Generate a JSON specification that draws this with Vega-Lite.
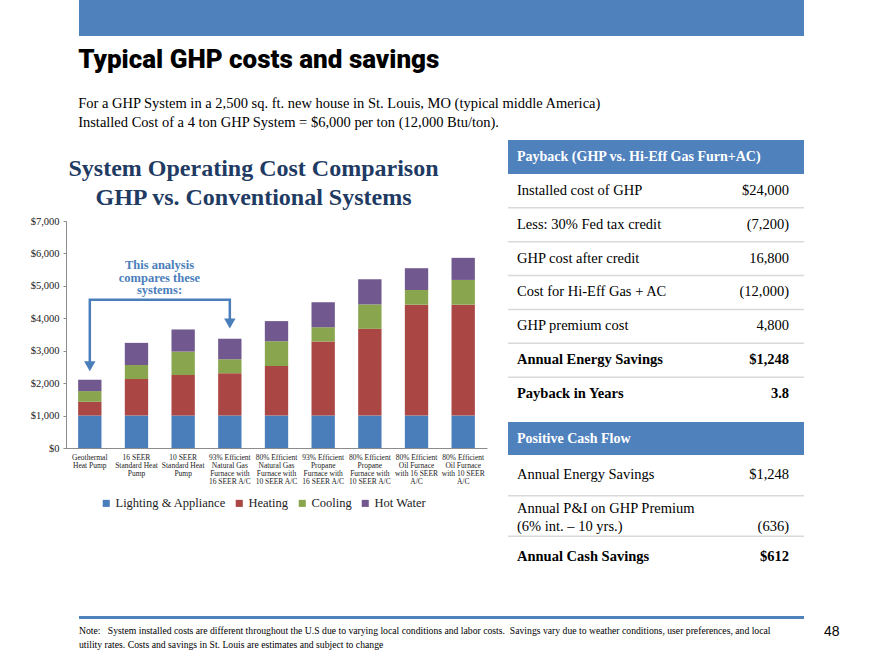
{
  "$schema": "https://vega.github.io/schema/vega-lite/v6.json",
  "background": "white",
  "padding": {"left": 30, "top": 0, "right": 0, "bottom": 0},
  "config": {
    "view": {"stroke": null},
    "font": "Liberation Serif",
    "text": {"font": "Liberation Serif"},
    "axisY": {"labelOverlap": false, "labelBound": false, "labelFlush": false}
  },
  "datasets": {
    "costs": [
      {"system": "Geothermal|Heat Pump", "category": "Lighting & Appliance", "ord": 1, "usd": 1000},
      {"system": "Geothermal|Heat Pump", "category": "Heating", "ord": 2, "usd": 425},
      {"system": "Geothermal|Heat Pump", "category": "Cooling", "ord": 3, "usd": 330},
      {"system": "Geothermal|Heat Pump", "category": "Hot Water", "ord": 4, "usd": 350},
      {"system": "16 SEER|Standard Heat|Pump", "category": "Lighting & Appliance", "ord": 1, "usd": 1000},
      {"system": "16 SEER|Standard Heat|Pump", "category": "Heating", "ord": 2, "usd": 1127},
      {"system": "16 SEER|Standard Heat|Pump", "category": "Cooling", "ord": 3, "usd": 433},
      {"system": "16 SEER|Standard Heat|Pump", "category": "Hot Water", "ord": 4, "usd": 682},
      {"system": "10 SEER|Standard Heat|Pump", "category": "Lighting & Appliance", "ord": 1, "usd": 1000},
      {"system": "10 SEER|Standard Heat|Pump", "category": "Heating", "ord": 2, "usd": 1251},
      {"system": "10 SEER|Standard Heat|Pump", "category": "Cooling", "ord": 3, "usd": 722},
      {"system": "10 SEER|Standard Heat|Pump", "category": "Hot Water", "ord": 4, "usd": 682},
      {"system": "93% Efficient|Natural Gas|Furnace with|16 SEER A/C", "category": "Lighting & Appliance", "ord": 1, "usd": 1000},
      {"system": "93% Efficient|Natural Gas|Furnace with|16 SEER A/C", "category": "Heating", "ord": 2, "usd": 1302},
      {"system": "93% Efficient|Natural Gas|Furnace with|16 SEER A/C", "category": "Cooling", "ord": 3, "usd": 434},
      {"system": "93% Efficient|Natural Gas|Furnace with|16 SEER A/C", "category": "Hot Water", "ord": 4, "usd": 630},
      {"system": "80% Efficient|Natural Gas|Furnace with|10 SEER A/C", "category": "Lighting & Appliance", "ord": 1, "usd": 1000},
      {"system": "80% Efficient|Natural Gas|Furnace with|10 SEER A/C", "category": "Heating", "ord": 2, "usd": 1529},
      {"system": "80% Efficient|Natural Gas|Furnace with|10 SEER A/C", "category": "Cooling", "ord": 3, "usd": 764},
      {"system": "80% Efficient|Natural Gas|Furnace with|10 SEER A/C", "category": "Hot Water", "ord": 4, "usd": 620},
      {"system": "93% Efficient|Propane|Furnace with|16 SEER A/C", "category": "Lighting & Appliance", "ord": 1, "usd": 1000},
      {"system": "93% Efficient|Propane|Furnace with|16 SEER A/C", "category": "Heating", "ord": 2, "usd": 2283},
      {"system": "93% Efficient|Propane|Furnace with|16 SEER A/C", "category": "Cooling", "ord": 3, "usd": 444},
      {"system": "93% Efficient|Propane|Furnace with|16 SEER A/C", "category": "Hot Water", "ord": 4, "usd": 764},
      {"system": "80% Efficient|Propane|Furnace with|10 SEER A/C", "category": "Lighting & Appliance", "ord": 1, "usd": 1000},
      {"system": "80% Efficient|Propane|Furnace with|10 SEER A/C", "category": "Heating", "ord": 2, "usd": 2675},
      {"system": "80% Efficient|Propane|Furnace with|10 SEER A/C", "category": "Cooling", "ord": 3, "usd": 754},
      {"system": "80% Efficient|Propane|Furnace with|10 SEER A/C", "category": "Hot Water", "ord": 4, "usd": 774},
      {"system": "80% Efficient|Oil Furnace|with 16 SEER|A/C", "category": "Lighting & Appliance", "ord": 1, "usd": 1000},
      {"system": "80% Efficient|Oil Furnace|with 16 SEER|A/C", "category": "Heating", "ord": 2, "usd": 3419},
      {"system": "80% Efficient|Oil Furnace|with 16 SEER|A/C", "category": "Cooling", "ord": 3, "usd": 454},
      {"system": "80% Efficient|Oil Furnace|with 16 SEER|A/C", "category": "Hot Water", "ord": 4, "usd": 671},
      {"system": "80% Efficient|Oil Furnace|with 10 SEER|A/C", "category": "Lighting & Appliance", "ord": 1, "usd": 1000},
      {"system": "80% Efficient|Oil Furnace|with 10 SEER|A/C", "category": "Heating", "ord": 2, "usd": 3419},
      {"system": "80% Efficient|Oil Furnace|with 10 SEER|A/C", "category": "Cooling", "ord": 3, "usd": 764},
      {"system": "80% Efficient|Oil Furnace|with 10 SEER|A/C", "category": "Hot Water", "ord": 4, "usd": 681}
    ],
    "arrow": [
      {"system": "Geothermal|Heat Pump", "usd": 2540, "step": 1},
      {"system": "Geothermal|Heat Pump", "usd": 4570, "step": 2},
      {"system": "93% Efficient|Natural Gas|Furnace with|16 SEER A/C", "usd": 4570, "step": 3},
      {"system": "93% Efficient|Natural Gas|Furnace with|16 SEER A/C", "usd": 3850, "step": 4}
    ],
    "heads": [
      {"system": "Geothermal|Heat Pump", "usd": 2520},
      {"system": "93% Efficient|Natural Gas|Furnace with|16 SEER A/C", "usd": 3840}
    ],
    "callout": [
      {"system": "16 SEER|Standard Heat|Pump", "usd": 5270, "text": "This analysis\ncompares these\nsystems:"}
    ],
    "payback": [
      {"row": "h", "type": "header", "label": "Payback (GHP vs.  Hi-Eff Gas Furn+AC)", "value": ""},
      {"row": "r1", "type": "item", "label": "Installed cost of GHP", "value": "$24,000"},
      {"row": "r2", "type": "item", "label": "Less: 30% Fed tax credit", "value": "(7,200)"},
      {"row": "r3", "type": "item", "label": "GHP cost after credit", "value": "16,800"},
      {"row": "r4", "type": "item", "label": "Cost for Hi-Eff Gas + AC", "value": "(12,000)"},
      {"row": "r5", "type": "item", "label": "GHP premium cost", "value": "4,800"},
      {"row": "r6", "type": "result", "label": "Annual Energy Savings", "value": "$1,248"},
      {"row": "r7", "type": "result", "label": "Payback in Years", "value": "3.8"}
    ],
    "cash": [
      {"row": "s1", "type": "item", "label": "Annual Energy Savings", "value": "$1,248"},
      {"row": "s2", "type": "item", "label": "Annual P&I on GHP Premium\n(6% int. – 10 yrs.)", "value": "\n(636)"},
      {"row": "s3", "type": "result", "label": "Annual Cash Savings", "value": "$612"}
    ],
    "cashHeader": [
      {"label": "Positive Cash Flow"}
    ]
  },
  "spacing": 34,
  "vconcat": [
    {
      "spacing": 10,
      "vconcat": [
        {
          "spacing": 12,
          "hconcat": [
            {"width": 1, "height": 36, "data": {"values": [{}]}, "mark": {"type": "text"}, "encoding": {"text": {"value": ""}}},
            {"width": 725, "height": 36, "view": {"fill": "#4f81bd", "stroke": null}, "data": {"values": [{}]}, "mark": {"type": "text"}, "encoding": {"text": {"value": ""}}}
          ]
        },
        {
          "title": {
            "text": "Typical GHP costs and savings",
            "subtitle": ["For a GHP System in a 2,500 sq. ft. new house in St. Louis, MO (typical middle America)", "Installed Cost of a 4 ton GHP System = $6,000 per ton (12,000 Btu/ton)."],
            "anchor": "start",
            "dx": 48,
            "font": "Roboto, Liberation Sans, sans-serif",
            "fontSize": 26,
            "fontWeight": 900,
            "color": "black",
            "subtitleFont": "Liberation Serif",
            "subtitleFontSize": 14.5,
            "subtitleColor": "black",
            "subtitleLineHeight": 19,
            "subtitlePadding": 24,
            "offset": 11
          },
          "spacing": 20,
          "hconcat": [
            {
              "spacing": 6,
              "vconcat": [
                {
                  "width": 421, "height": 15,
                  "data": {"values": [{}]},
                  "mark": {"type": "text"},
                  "encoding": {"text": {"value": ""}},
                  "title": {
                    "text": ["System Operating Cost Comparison", "GHP vs. Conventional Systems"],
                    "orient": "bottom", "anchor": "middle", "dx": -23, "offset": 2,
                    "font": "Liberation Serif", "fontSize": 24, "fontWeight": "bold",
                    "lineHeight": 29, "color": "#1f3b63"
                  }
                },
                {
                  "width": 421, "height": 227,
                  "layer": [
                    {
                      "data": {"name": "costs"},
                      "mark": {"type": "bar"},
                      "encoding": {
                        "x": {
                          "field": "system", "type": "nominal", "sort": null,
                          "scale": {"paddingInner": 0.5, "paddingOuter": 0.26},
                          "axis": {
                            "title": null, "labelAngle": 0,
                            "labelExpr": "split(datum.label, '|')",
                            "labelFont": "Liberation Serif", "labelFontSize": 7.5,
                            "labelLineHeight": 8.3, "labelColor": "#222",
                            "ticks": false, "labelPadding": 5, "domainColor": "#8c8c8c"
                          }
                        },
                        "y": {
                          "field": "usd", "type": "quantitative", "stack": "zero",
                          "scale": {"domain": [0, 7000], "nice": false},
                          "axis": {
                            "title": null, "tickCount": 7,
                            "format": "$,.0f", "grid": false, "labelOverlap": false,
                            "labelFont": "Liberation Serif", "labelFontSize": 10.5, "labelColor": "#222",
                            "tickSize": 3, "tickColor": "#8c8c8c", "domainColor": "#8c8c8c", "labelPadding": 4
                          }
                        },
                        "color": {
                          "field": "category", "type": "nominal",
                          "scale": {
                            "domain": ["Lighting & Appliance", "Heating", "Cooling", "Hot Water"],
                            "range": ["#4a7ebb", "#aa4643", "#89a54e", "#71588f"]
                          },
                          "legend": {
                            "title": null, "orient": "none", "legendX": 34, "legendY": 497,
                            "direction": "horizontal", "symbolType": "square", "symbolSize": 50,
                            "symbolStrokeWidth": 0, "labelFont": "Liberation Serif", "labelFontSize": 12.5,
                            "labelColor": "#222", "labelOffset": 3, "columnPadding": 7
                          }
                        },
                        "order": {"field": "ord"}
                      }
                    },
                    {
                      "data": {"name": "arrow"},
                      "mark": {"type": "line", "color": "#4a7ebb", "strokeWidth": 2.5},
                      "encoding": {
                        "x": {"field": "system", "type": "nominal", "sort": null},
                        "y": {"field": "usd", "type": "quantitative"},
                        "order": {"field": "step"}
                      }
                    },
                    {
                      "data": {"name": "heads"},
                      "mark": {"type": "point", "shape": "triangle-down", "filled": true, "size": 130, "color": "#4a7ebb", "opacity": 1},
                      "encoding": {
                        "x": {"field": "system", "type": "nominal", "sort": null},
                        "y": {"field": "usd", "type": "quantitative"}
                      }
                    },
                    {
                      "data": {"name": "callout"},
                      "mark": {"type": "text", "lineBreak": "\n", "lineHeight": 12.5, "fontSize": 12.5, "fontWeight": "bold", "color": "#4a7ebb", "dx": 23, "dy": -12, "align": "center", "baseline": "middle"},
                      "encoding": {
                        "x": {"field": "system", "type": "nominal", "sort": null},
                        "y": {"field": "usd", "type": "quantitative"},
                        "text": {"field": "text"}
                      }
                    }
                  ]
                }
              ]
            },
            {
              "spacing": 11,
              "vconcat": [
                {
                  "width": 296, "height": 271,
                  "data": {"name": "payback"},
                  "encoding": {
                    "y": {"field": "row", "type": "nominal", "scale": {"type": "band", "domain": ["h", "r1", "r2", "r3", "r4", "r5", "r6", "r7"], "paddingInner": 0, "paddingOuter": 0}, "axis": null}
                  },
                  "layer": [
                    {
                      "transform": [{"filter": "datum.type == 'header'"}],
                      "mark": {"type": "bar", "color": "#4f81bd"},
                      "encoding": {"x": {"datum": 0, "type": "quantitative", "scale": {"domain": [0, 1]}, "axis": null}, "x2": {"datum": 1}}
                    },
                    {
                      "transform": [{"filter": "datum.type != 'header' && datum.row != 'r7'"}],
                      "mark": {"type": "rule", "color": "#d9d9d9", "strokeWidth": 1.5},
                      "encoding": {"y": {"field": "row", "type": "nominal", "bandPosition": 1}, "x": {"datum": 0, "type": "quantitative"}, "x2": {"datum": 1}}
                    },
                    {
                      "transform": [{"filter": "datum.type == 'header'"}],
                      "mark": {"type": "text", "align": "left", "baseline": "middle", "dx": 9, "fontSize": 14, "fontWeight": "bold", "color": "white"},
                      "encoding": {"x": {"datum": 0, "type": "quantitative"}, "text": {"field": "label"}}
                    },
                    {
                      "transform": [{"filter": "datum.type == 'item'"}],
                      "mark": {"type": "text", "align": "left", "baseline": "middle", "dx": 9, "fontSize": 14.5, "color": "black"},
                      "encoding": {"x": {"datum": 0, "type": "quantitative"}, "text": {"field": "label"}}
                    },
                    {
                      "transform": [{"filter": "datum.type == 'result'"}],
                      "mark": {"type": "text", "align": "left", "baseline": "middle", "dx": 9, "fontSize": 14.5, "fontWeight": "bold", "color": "black"},
                      "encoding": {"x": {"datum": 0, "type": "quantitative"}, "text": {"field": "label"}}
                    },
                    {
                      "transform": [{"filter": "datum.type == 'item'"}],
                      "mark": {"type": "text", "align": "right", "baseline": "middle", "dx": -15, "fontSize": 14.5, "color": "black"},
                      "encoding": {"x": {"datum": 1, "type": "quantitative"}, "text": {"field": "value"}}
                    },
                    {
                      "transform": [{"filter": "datum.type == 'result'"}],
                      "mark": {"type": "text", "align": "right", "baseline": "middle", "dx": -15, "fontSize": 14.5, "fontWeight": "bold", "color": "black"},
                      "encoding": {"x": {"datum": 1, "type": "quantitative"}, "text": {"field": "value"}}
                    }
                  ]
                },
                {
                  "spacing": 0,
                  "vconcat": [
                    {
                      "width": 296, "height": 33,
                      "data": {"name": "cashHeader"},
                      "encoding": {
                        "y": {"field": "label", "type": "nominal", "scale": {"type": "band", "paddingInner": 0, "paddingOuter": 0}, "axis": null}
                      },
                      "layer": [
                        {
                          "mark": {"type": "bar", "color": "#4f81bd"},
                          "encoding": {"x": {"datum": 0, "type": "quantitative", "scale": {"domain": [0, 1]}, "axis": null}, "x2": {"datum": 1}}
                        },
                        {
                          "mark": {"type": "text", "align": "left", "baseline": "middle", "dx": 9, "fontSize": 14, "fontWeight": "bold", "color": "white"},
                          "encoding": {"x": {"datum": 0, "type": "quantitative"}, "text": {"field": "label"}}
                        }
                      ]
                    },
                    {
                      "width": 296, "height": 122,
                      "data": {"name": "cash"},
                      "encoding": {
                        "y": {"field": "row", "type": "nominal", "scale": {"type": "band", "domain": ["s1", "s2", "s3"], "paddingInner": 0, "paddingOuter": 0}, "axis": null}
                      },
                      "layer": [
                        {
                          "transform": [{"filter": "datum.type == 'item'"}],
                          "mark": {"type": "rule", "color": "#d9d9d9", "strokeWidth": 1.5},
                          "encoding": {"y": {"field": "row", "type": "nominal", "bandPosition": 1}, "x": {"datum": 0, "type": "quantitative", "scale": {"domain": [0, 1]}, "axis": null}, "x2": {"datum": 1}}
                        },
                        {
                          "transform": [{"filter": "datum.row == 's1'"}],
                          "mark": {"type": "text", "align": "left", "baseline": "middle", "dx": 9, "fontSize": 14.5, "color": "black"},
                          "encoding": {"x": {"datum": 0, "type": "quantitative"}, "text": {"field": "label"}}
                        },
                        {
                          "transform": [{"filter": "datum.row == 's2'"}],
                          "mark": {"type": "text", "align": "left", "baseline": "middle", "dx": 9, "dy": -7, "fontSize": 14.5, "color": "black", "lineBreak": "\n", "lineHeight": 18},
                          "encoding": {"x": {"datum": 0, "type": "quantitative"}, "text": {"field": "label"}}
                        },
                        {
                          "transform": [{"filter": "datum.type == 'result'"}],
                          "mark": {"type": "text", "align": "left", "baseline": "middle", "dx": 9, "fontSize": 14.5, "fontWeight": "bold", "color": "black"},
                          "encoding": {"x": {"datum": 0, "type": "quantitative"}, "text": {"field": "label"}}
                        },
                        {
                          "transform": [{"filter": "datum.row == 's1'"}],
                          "mark": {"type": "text", "align": "right", "baseline": "middle", "dx": -15, "fontSize": 14.5, "color": "black"},
                          "encoding": {"x": {"datum": 1, "type": "quantitative"}, "text": {"field": "value"}}
                        },
                        {
                          "transform": [{"filter": "datum.row == 's2'"}],
                          "mark": {"type": "text", "align": "right", "baseline": "middle", "dx": -15, "dy": -7, "fontSize": 14.5, "color": "black", "lineBreak": "\n", "lineHeight": 18},
                          "encoding": {"x": {"datum": 1, "type": "quantitative"}, "text": {"field": "value"}}
                        },
                        {
                          "transform": [{"filter": "datum.type == 'result'"}],
                          "mark": {"type": "text", "align": "right", "baseline": "middle", "dx": -15, "fontSize": 14.5, "fontWeight": "bold", "color": "black"},
                          "encoding": {"x": {"datum": 1, "type": "quantitative"}, "text": {"field": "value"}}
                        }
                      ]
                    }
                  ]
                }
              ]
            }
          ]
        }
      ]
    },
    {
      "spacing": 12,
      "hconcat": [
        {"width": 1, "height": 3, "data": {"values": [{}]}, "mark": {"type": "text"}, "encoding": {"text": {"value": ""}}},
        {
          "width": 725, "height": 3, "view": {"fill": "#4f81bd", "stroke": null},
          "data": {"values": [{}]}, "mark": {"type": "text"}, "encoding": {"text": {"value": ""}},
          "title": {
            "text": ["Note:\u00a0\u00a0 System installed costs are different throughout the U.S due to varying local conditions and labor costs.\u00a0 Savings vary due to weather conditions, user preferences, and local", "\u00a0\u00a0\u00a0\u00a0\u00a0\u00a0\u00a0\u00a0\u00a0\u00a0\u00a0 utility rates. Costs and savings in St. Louis are estimates and subject to change"],
            "orient": "bottom", "anchor": "start", "offset": 3,
            "font": "Liberation Serif", "fontSize": 9.7, "fontWeight": "normal", "lineHeight": 14, "color": "black"
          }
        },
        {
          "width": 20, "height": 3,
          "data": {"values": [{}]}, "mark": {"type": "text"}, "encoding": {"text": {"value": ""}},
          "title": {"text": "48", "orient": "bottom", "anchor": "start", "dx": 8, "offset": 2, "font": "Liberation Sans", "fontSize": 14, "fontWeight": "normal", "color": "black"}
        }
      ]
    }
  ]
}
